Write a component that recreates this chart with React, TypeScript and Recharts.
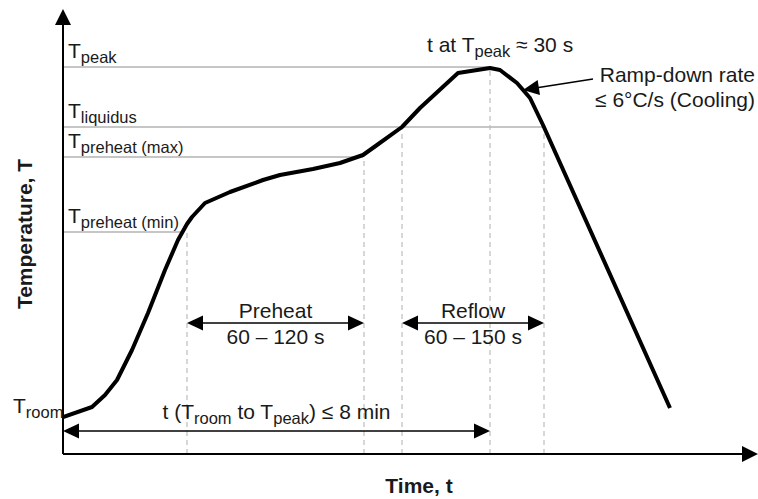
import React from "react";
import { LineChart, Line, XAxis, YAxis, ReferenceLine, ReferenceDot } from "recharts";

// schematic units: one unit is one pixel of the plot area
const timePoints = [0, 29, 42, 54, 69, 85, 102, 115, 124, 129, 142, 167, 200, 217, 250, 277, 300, 314, 339, 357, 395, 427, 437, 454, 467, 480, 607];
const tempPoints = [37, 47, 59, 74, 104, 141, 184, 214, 230, 237, 251, 262, 274, 279, 285, 291, 299, 309, 327, 346, 381, 386, 384, 371, 356, 329, 46];

const levelNames = ["peak", "liquidus", "preheat (max)", "preheat (min)"];
const levelTemps = [387, 327, 297, 222];
const levelEnds = [427, 481, 300, 118];

const markerTimes = [124, 301, 339, 427, 481];
const markerTops = [222, 297, 327, 387, 327];

const spanNames = ["Preheat", "Reflow"];
const spanRanges = ["60 – 120 s", "60 – 150 s"];
const spanStarts = [124, 339];
const spanEnds = [301, 481];
const spanLevel = 131;

const totalSpan = [0, 427];
const totalLevel = 23;

const coolTail = { t: 530, temp: 375 };
const coolTip = { t: 460, temp: 364 };

const X_MAX = 694;
const Y_MAX = 444;

const data = timePoints.map((t, i) => ({ t, temp: tempPoints[i] }));

const FONT = "'Liberation Sans', Arial, sans-serif";
const INK = "#1a1a1a";

type Part = { s: string; sub?: boolean };

function RichText({ cx, cy, parts, anchor = "start", bold = false, rotate = 0 }: any) {
  let shifted = false;
  return (
    <text
      x={cx}
      y={cy}
      textAnchor={anchor}
      fontFamily={FONT}
      fontSize={21}
      fontWeight={bold ? "bold" : "normal"}
      fill={INK}
      transform={rotate ? `rotate(${rotate}, ${cx}, ${cy})` : undefined}
    >
      {(parts as Part[]).map((p, i) => {
        let dy = 0;
        if (p.sub && !shifted) dy = 5;
        if (!p.sub && shifted) dy = -5;
        shifted = !!p.sub;
        return (
          <tspan key={i} dy={dy} fontSize={p.sub ? 16.5 : 21}>
            {p.s}
          </tspan>
        );
      })}
    </text>
  );
}

function Head({ cx, cy, angle, len = 16, hw = 7.5 }: any) {
  return (
    <polygon
      points={`0,0 ${-len},${-hw} ${-len},${hw}`}
      fill="#000"
      transform={`translate(${cx}, ${cy}) rotate(${angle})`}
    />
  );
}

const label = (x: number, y: number, parts: Part[], anchor = "start", bold = false, rotate = 0) => (
  <ReferenceDot
    key={`lbl-${x}-${y}-${parts[0].s}`}
    x={x}
    y={y}
    ifOverflow="visible"
    shape={(p: any) => <RichText cx={p.cx} cy={p.cy} parts={parts} anchor={anchor} bold={bold} rotate={rotate} />}
  />
);

const head = (x: number, y: number, angle: number, len = 16, hw = 7.5) => (
  <ReferenceDot
    key={`head-${x}-${y}-${angle}`}
    x={x}
    y={y}
    ifOverflow="visible"
    shape={(p: any) => <Head cx={p.cx} cy={p.cy} angle={angle} len={len} hw={hw} />}
  />
);

const coolAngle =
  (Math.atan2(-(coolTip.temp - coolTail.temp), coolTip.t - coolTail.t) * 180) / Math.PI;

export default function App() {
  return (
    <div style={{ position: "absolute", left: 0, top: 0, width: 758, height: 499, background: "#fff" }}>
      <LineChart width={758} height={499} data={data} margin={{ top: 10, right: 1, bottom: 45, left: 63 }}>
        <XAxis type="number" dataKey="t" domain={[0, X_MAX]} allowDataOverflow hide />
        <YAxis type="number" domain={[0, Y_MAX]} allowDataOverflow hide />

        {levelTemps.map((v, i) => (
          <ReferenceLine
            key={`lvl-${i}`}
            segment={[{ x: 0, y: v }, { x: levelEnds[i], y: v }]}
            stroke="#b3b3b3"
            strokeWidth={1.3}
          />
        ))}
        {markerTimes.map((t, i) => (
          <ReferenceLine
            key={`mk-${i}`}
            segment={[{ x: t, y: 0 }, { x: t, y: markerTops[i] }]}
            stroke="#bdbdbd"
            strokeWidth={1.2}
            strokeDasharray="5 4"
          />
        ))}

        {/* axes */}
        <ReferenceLine segment={[{ x: 0, y: 0 }, { x: 0, y: Y_MAX - 4 }]} stroke="#000" strokeWidth={2} />
        <ReferenceLine segment={[{ x: 0, y: 0 }, { x: X_MAX - 4, y: 0 }]} stroke="#000" strokeWidth={2} />
        {head(0, Y_MAX + 1, -90, 16, 8)}
        {head(X_MAX + 1, 0, 0, 16, 8)}

        {/* span arrows */}
        {spanStarts.map((s, i) => (
          <ReferenceLine
            key={`sp-${i}`}
            segment={[{ x: s + 4, y: spanLevel }, { x: spanEnds[i] - 4, y: spanLevel }]}
            stroke="#000"
            strokeWidth={1.5}
          />
        ))}
        {spanStarts.map((s) => head(s, spanLevel, 180))}
        {spanEnds.map((e) => head(e, spanLevel, 0))}
        <ReferenceLine
          segment={[{ x: totalSpan[0] + 4, y: totalLevel }, { x: totalSpan[1] - 4, y: totalLevel }]}
          stroke="#000"
          strokeWidth={1.5}
        />
        {head(totalSpan[0], totalLevel, 180)}
        {head(totalSpan[1], totalLevel, 0)}

        <ReferenceLine
          segment={[{ x: coolTail.t, y: coolTail.temp }, { x: coolTip.t + 6, y: coolTip.temp + 1 }]}
          stroke="#000"
          strokeWidth={1.5}
        />
        {head(coolTip.t, coolTip.temp, coolAngle)}

        <Line
          type="linear"
          dataKey="temp"
          stroke="#000"
          strokeWidth={4}
          strokeLinejoin="round"
          dot={false}
          isAnimationActive={false}
        />

        {/* level labels */}
        {levelNames.map((n, i) => label(5, levelTemps[i] + 9, [{ s: "T" }, { s: n, sub: true }]))}
        {label(-50, 41, [{ s: "T" }, { s: "room", sub: true }])}

        {label(364, 402, [{ s: "t at T" }, { s: "peak", sub: true }, { s: " ≈ 30 s" }])}
        {label(692, 372, [{ s: "Ramp-down rate" }], "end")}
        {label(692, 347, [{ s: "≤ 6°C/s (Cooling)" }], "end")}

        {spanNames.map((n, i) => label((spanStarts[i] + spanEnds[i]) / 2, spanLevel + 5, [{ s: n }], "middle"))}
        {spanRanges.map((n, i) => label((spanStarts[i] + spanEnds[i]) / 2, spanLevel - 21, [{ s: n }], "middle"))}

        {label((totalSpan[0] + totalSpan[1]) / 2, totalLevel + 12, [
          { s: "t (T" },
          { s: "room", sub: true },
          { s: " to T" },
          { s: "peak", sub: true },
          { s: ") ≤ 8 min" },
        ], "middle")}

        {label(-31, 220, [{ s: "Temperature, T" }], "middle", true, -90)}
        {label(356, -39, [{ s: "Time, t" }], "middle", true)}
      </LineChart>
    </div>
  );
}
